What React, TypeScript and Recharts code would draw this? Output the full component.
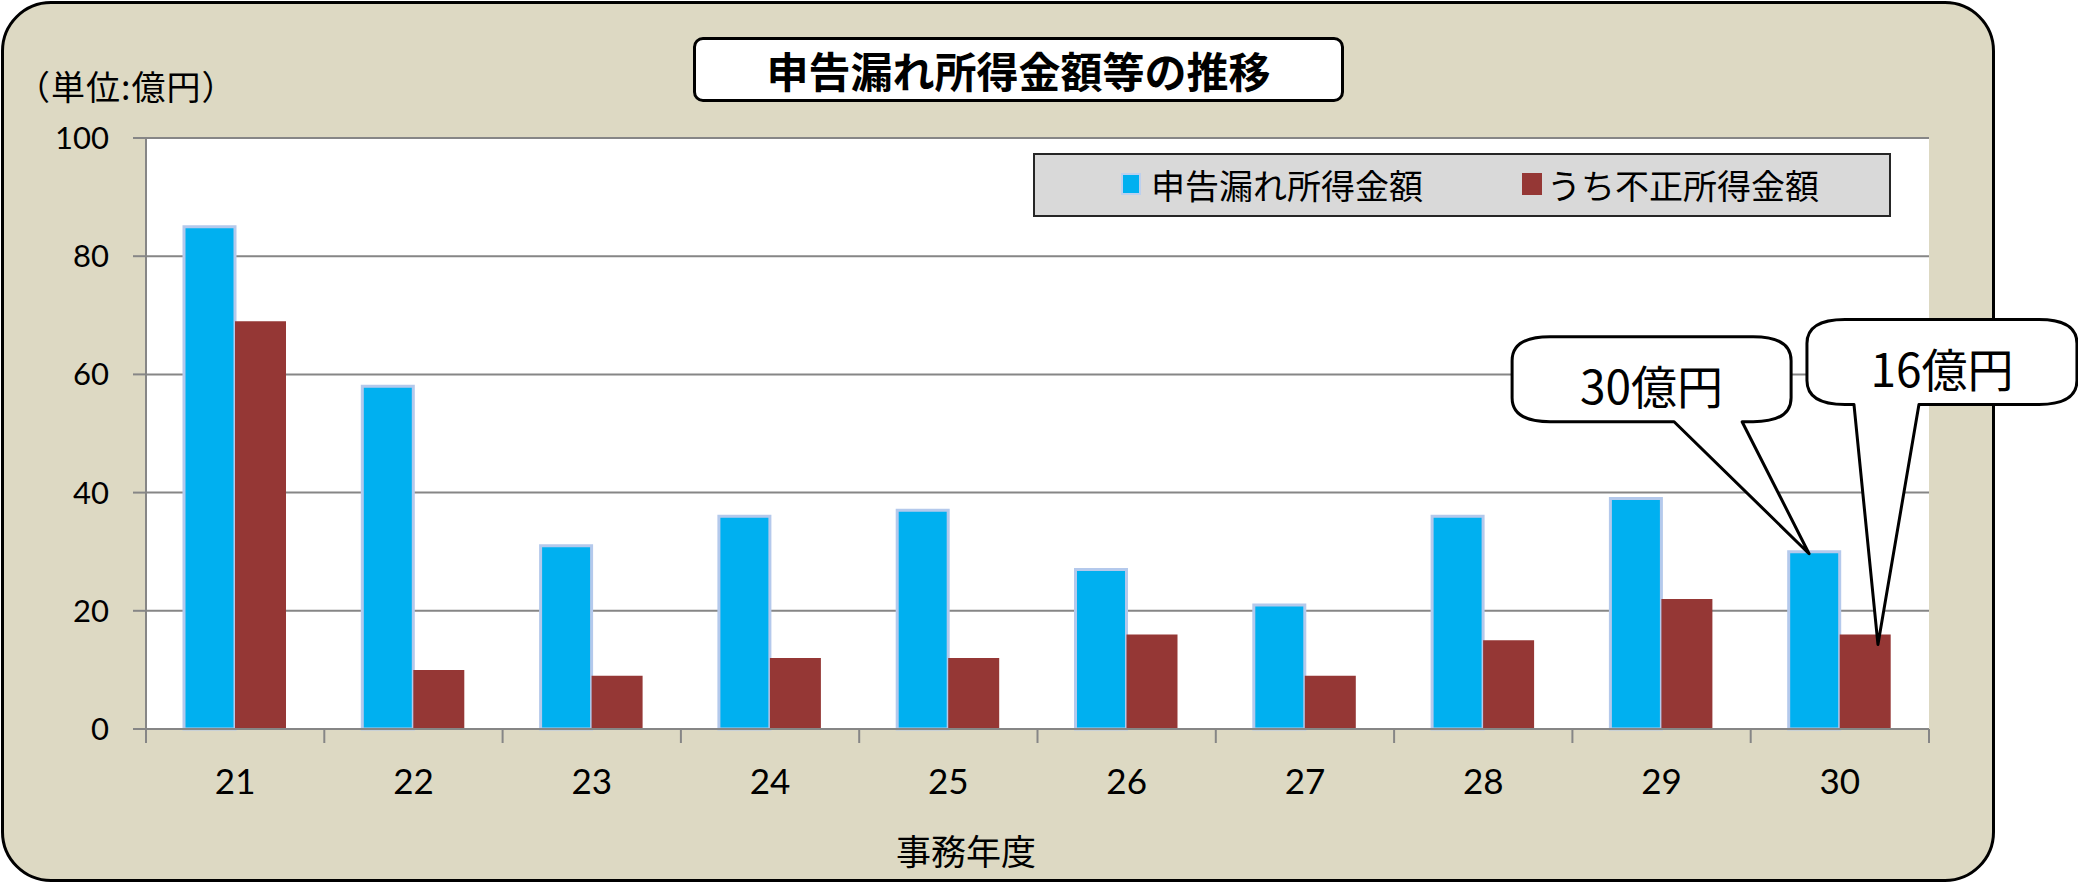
import React from 'react';
import { BarChart, Bar, XAxis, YAxis, CartesianGrid, Legend, LabelList } from 'recharts';

const W = 2078;
const H = 885;

const years = ['21', '22', '23', '24', '25', '26', '27', '28', '29', '30'];
const omissionAmounts = [85, 58, 31, 36, 37, 27, 21, 36, 39, 30];
const fraudAmounts = [69, 10, 9, 12, 12, 16, 9, 15, 22, 16];
const yTicks = [0, 20, 40, 60, 80, 100];
const seriesNames = ['申告漏れ所得金額', 'うち不正所得金額'];
const calloutTexts = ['30億円', '16億円'];
const titleText = '申告漏れ所得金額等の推移';
const unitText = '（単位:億円）';
const xAxisTitle = '事務年度';

const data = years.map((year, i) => ({
  year,
  omission: omissionAmounts[i],
  fraud: fraudAmounts[i],
}));

const MARGIN = { top: 138, right: 149, bottom: 0, left: 0 };
const Y_AXIS_W = 146;
const X_AXIS_H = 156;
const PLOT_W = W - MARGIN.left - MARGIN.right - Y_AXIS_W;
const BAND_HALF = PLOT_W / years.length / 2;

const CJK = "'Noto Sans CJK JP', sans-serif";
const NUM = "Lato, 'Noto Sans CJK JP', sans-serif";
const GRID = '#868686';
const BLUE = '#00B0F0';
const RED = '#953735';
const BG = '#DDD9C3';

const XTick = (props: any) => {
  const { x, y, payload, index, visibleTicksCount } = props;
  const half =
    payload && typeof payload.offset === 'number' && payload.offset > 0 ? payload.offset : BAND_HALF;
  const count = visibleTicksCount ?? years.length;
  const isLast = index === count - 1;
  return (
    <g>
      <line x1={x - half} x2={x - half} y1={y} y2={y + 14} stroke={GRID} strokeWidth={2} />
      {isLast && <line x1={x + half} x2={x + half} y1={y} y2={y + 14} stroke={GRID} strokeWidth={2} />}
      <text
        x={x}
        y={y + 51}
        textAnchor="middle"
        dominantBaseline="central"
        fontSize={35}
        fontFamily={NUM}
        fill="#000"
      >
        {payload.value}
      </text>
    </g>
  );
};

const LegendBox = (props: any) => {
  const raw = props.payload ?? [];
  const payload = [...raw].sort(
    (a: any, b: any) => seriesNames.indexOf(a.value) - seriesNames.indexOf(b.value)
  );
  const pos = [
    { sw: 86, tx: 116 },
    { sw: 487, tx: 512 },
  ];
  return (
    <div
      style={{
        position: 'relative',
        width: 858,
        height: 64,
        boxSizing: 'border-box',
        background: '#D9D9D9',
        border: '2px solid #262626',
        fontFamily: CJK,
      }}
    >
      {payload.map((e: any, i: number) => (
        <React.Fragment key={i}>
          <div
            style={{
              position: 'absolute',
              left: pos[i]?.sw ?? 0,
              top: 18,
              width: 20,
              height: 22,
              background: e.color,
              boxSizing: 'border-box',
              border: i === 0 ? '2px solid #bcd0ee' : 'none',
            }}
          />
          <div
            style={{
              position: 'absolute',
              left: pos[i]?.tx ?? 0,
              top: 0,
              height: 60,
              lineHeight: '60px',
              fontSize: 34,
              color: '#000',
              whiteSpace: 'nowrap',
            }}
          >
            {e.value}
          </div>
        </React.Fragment>
      ))}
    </div>
  );
};

type CalloutCfg = {
  text: string;
  tipFx: number;
  tipDy: number;
  box: [number, number, number, number];
  base: [number, number];
};

const makeCallout = (cfg: CalloutCfg) => (p: any) => {
  if (p.index !== years.length - 1) return null;
  const vb = p.viewBox ?? {};
  const bx = vb.x ?? p.x;
  const by = vb.y ?? p.y;
  const bw = vb.width ?? p.width;
  if (typeof bx !== 'number' || typeof by !== 'number') return null;
  const tx = bx + bw * cfg.tipFx;
  const ty = by + cfg.tipDy;
  const L = tx + cfg.box[0];
  const R = tx + cfg.box[1];
  const T = ty + cfg.box[2];
  const B = ty + cfg.box[3];
  const bL = tx + cfg.base[0];
  const bR = tx + cfg.base[1];
  const rx = 38;
  const ry = 24;
  const d = `M${L + rx},${T} H${R - rx} Q${R},${T} ${R},${T + ry} V${B - ry} Q${R},${B} ${R - rx},${B} H${bR} L${tx},${ty} L${bL},${B} H${L + rx} Q${L},${B} ${L},${B - ry} V${T + ry} Q${L},${T} ${L + rx},${T} Z`;
  return (
    <g>
      <path d={d} fill="#fff" stroke="#000" strokeWidth={3} strokeLinejoin="round" />
      <text
        x={(L + R) / 2}
        y={(T + B) / 2 + 5}
        textAnchor="middle"
        dominantBaseline="central"
        fontSize={46}
        fontFamily={CJK}
        fill="#000"
      >
        {cfg.text}
      </text>
    </g>
  );
};

const blueCallout = makeCallout({
  text: calloutTexts[0],
  tipFx: 0.4,
  tipDy: 2,
  box: [-297, -18, -217, -132],
  base: [-135, -67],
});

const redCallout = makeCallout({
  text: calloutTexts[1],
  tipFx: 0.75,
  tipDy: 10,
  box: [-71, 199, -325, -240],
  base: [-24, 41],
});

export default function App() {
  return (
    <div
      style={{
        position: 'absolute',
        left: 0,
        top: 0,
        width: W,
        height: H,
        background: '#fff',
        overflow: 'hidden',
      }}
    >
      <div
        style={{
          position: 'absolute',
          left: 1,
          top: 1,
          width: 1994,
          height: 881,
          boxSizing: 'border-box',
          border: '3px solid #000',
          borderRadius: 50,
          background: BG,
        }}
      />
      <div style={{ position: 'absolute', left: 0, top: 0 }}>
        <BarChart width={W} height={H} data={data} margin={MARGIN} barGap={0} barSize={51}>
          <CartesianGrid horizontal vertical={false} stroke={GRID} strokeWidth={2} fill="#fff" />
          <XAxis
            dataKey="year"
            height={X_AXIS_H}
            axisLine={{ stroke: GRID, strokeWidth: 2 }}
            tickLine={false}
            tickSize={0}
            tickMargin={0}
            interval={0}
            tick={<XTick />}
          />
          <YAxis
            width={Y_AXIS_W}
            domain={[0, 100]}
            ticks={yTicks}
            interval={0}
            axisLine={{ stroke: GRID, strokeWidth: 2 }}
            tickLine={{ stroke: GRID, strokeWidth: 2 }}
            tickSize={13}
            tickMargin={24}
            tick={{ fontSize: 31, fontFamily: NUM, fill: '#000' }}
          />
          <Legend
            layout="vertical"
            verticalAlign="middle"
            align="center"
            wrapperStyle={{ left: 1033, top: 153, width: 858, height: 64 }}
            content={<LegendBox />}
          />
          <Bar
            dataKey="omission"
            name={seriesNames[0]}
            fill={BLUE}
            stroke="#b4c9ec"
            strokeWidth={3}
            isAnimationActive={false}
          >
            <LabelList dataKey="omission" content={blueCallout} />
          </Bar>
          <Bar dataKey="fraud" name={seriesNames[1]} fill={RED} isAnimationActive={false}>
            <LabelList dataKey="fraud" content={redCallout} />
          </Bar>
        </BarChart>
      </div>
      <div
        style={{
          position: 'absolute',
          left: 693,
          top: 37,
          width: 651,
          height: 65,
          boxSizing: 'border-box',
          border: '3px solid #000',
          borderRadius: 10,
          background: '#fff',
          display: 'flex',
          alignItems: 'center',
          justifyContent: 'center',
          fontFamily: CJK,
          fontSize: 42,
          fontWeight: 700,
          color: '#000',
          whiteSpace: 'nowrap',
        }}
      >
        {titleText}
      </div>
      <div
        style={{
          position: 'absolute',
          left: 16,
          top: 65,
          height: 42,
          lineHeight: '42px',
          fontFamily: CJK,
          fontSize: 34,
          letterSpacing: 1,
          color: '#000',
          whiteSpace: 'nowrap',
        }}
      >
        {unitText}
      </div>
      <div
        style={{
          position: 'absolute',
          left: 866,
          width: 200,
          top: 828,
          height: 44,
          lineHeight: '44px',
          textAlign: 'center',
          fontFamily: CJK,
          fontSize: 35,
          color: '#000',
          whiteSpace: 'nowrap',
        }}
      >
        {xAxisTitle}
      </div>
    </div>
  );
}
